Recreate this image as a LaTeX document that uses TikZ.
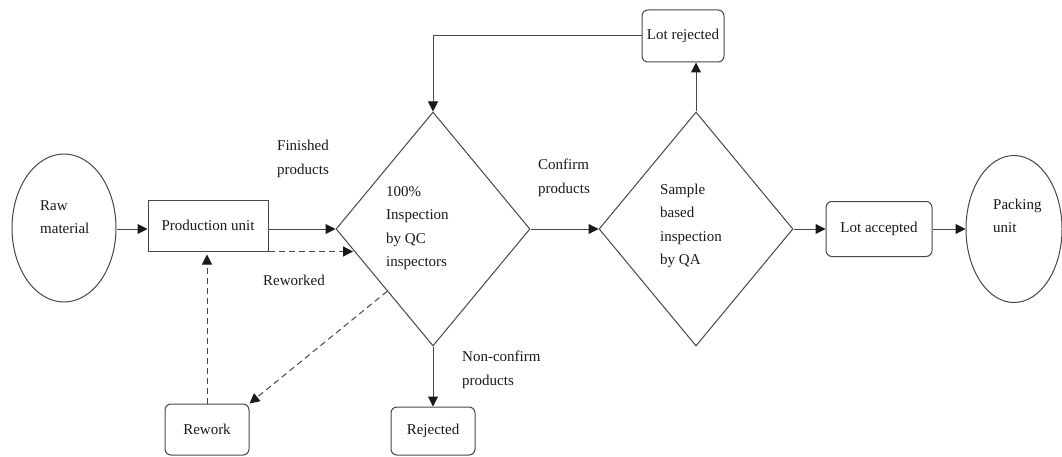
\documentclass[tikz,border=0pt]{standalone}
\usepackage{fontspec}
\setmainfont{Liberation Serif}
\usetikzlibrary{shapes.geometric,arrows.meta,calc}
\begin{document}
\begin{tikzpicture}[x=1pt,y=-1pt,
  every node/.style={font=\fontsize{15}{23.5}\selectfont, text=black!90},
  ln/.style={draw=black!72, line width=1pt},
  arr/.style={ln, -{Triangle[length=10pt,width=10pt,color=black!90]}},
  dsh/.style={arr, dash pattern=on 6pt off 4pt},
  boxsq/.style={ln, rectangle, inner sep=0pt},
  boxrd/.style={ln, rectangle, rounded corners=6pt, inner sep=0pt},
  ell/.style={ln, ellipse, inner sep=0pt},
  dia/.style={ln, diamond, inner sep=0pt},
  lbl/.style={align=left, anchor=west, inner sep=0pt}
]
\useasboundingbox (0,0) rectangle (1062,457);

% shapes
\node[ell, minimum width=104pt, minimum height=148pt] (raw) at (64,228) {};
\node[lbl] (rawt) at (40,217) {Raw\\material};
\node[boxsq, minimum width=120pt, minimum height=51pt] (prod) at (208,225.5) {Production unit};
\node[dia, minimum width=194pt, minimum height=234pt] (d1) at (433,229) {};
\node[lbl] (d1t) at (386,228) {100\%\\Inspection\\by QC\\inspectors};
\node[boxrd, minimum width=84pt, minimum height=48pt] (rej) at (433,431) {Rejected};
\node[boxrd, minimum width=84pt, minimum height=51pt] (rework) at (207,429.5) {Rework};
\node[boxrd, minimum width=82pt, minimum height=52pt] (lotrej) at (683,36) {Lot rejected};
\node[dia, minimum width=194pt, minimum height=234pt] (d2) at (696,229) {};
\node[lbl] (d2t) at (660,226) {Sample\\based\\inspection\\by QA};
\node[boxrd, minimum width=106pt, minimum height=55pt] (lotacc) at (879,229) {Lot accepted};
\node[ell, minimum width=96pt, minimum height=147pt] (pack) at (1014,229) {};
\node[lbl] (packt) at (993,216) {Packing\\unit};

% labels
\node[lbl] (lfin) at (277,159) {Finished\\products};
\node[lbl] (lrew) at (263,280) {Reworked};
\node[lbl] (lconf) at (538,178) {Confirm\\products};
\node[lbl] (lnon) at (462,370) {Non-confirm\\products};

% connectors
\coordinate (e1) at ($(d1.west)!0.18!(d1.south)$);
\coordinate (e2) at ($(d1.west)!0.53!(d1.south)$);
\draw[arr] (raw.east |- 0,229) -- (prod.west |- 0,229);
\draw[arr] (prod.east |- d1.west) -- (d1.west);
\draw[dsh] (prod.south east) -- (prod.south east -| e1);
\draw[dsh] (e2) -- (rework.north east);
\draw[dsh] (rework.north) -- ([yshift=-3pt]rework.north |- prod.south);
\draw[arr] (d1.south) -- (rej.north);
\draw[arr] (lotrej.west) -- (lotrej.west -| d1.north) -- (d1.north);
\draw[arr] (d1.east) -- (d2.west);
\draw[arr] (d2.north) -- (d2.north |- lotrej.south);
\draw[arr] (d2.east) -- (lotacc.west);
\draw[arr] (lotacc.east) -- (lotacc.east -| pack.west);
\end{tikzpicture}
\end{document}
